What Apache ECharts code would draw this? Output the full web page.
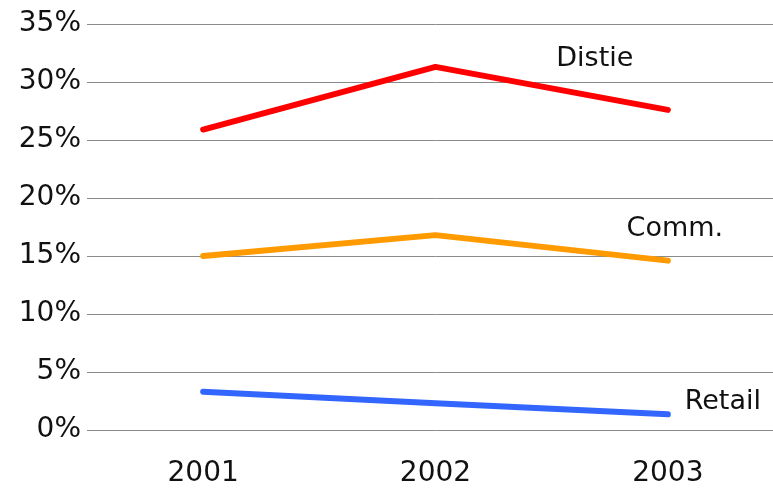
<!DOCTYPE html>
<html>
<head>
<meta charset="utf-8">
<script src="https://cdn.jsdelivr.net/npm/echarts@6/dist/echarts.min.js"></script>
<style>
  html, body { margin: 0; padding: 0; background: #fff; overflow: hidden; width: 773px; height: 489px; }
  /* the canvas runs a little past the page edge so the last band is cut off */
  #chart { width: 784px; height: 489px; }
</style>
</head>
<body>
<div id="chart"></div>
<script>
// Share by channel, 2001-2003 (percent)
const years = ['2001', '2002', '2003'];
const distie = [25.9, 31.3, 27.6];
const comm = [15.0, 16.8, 14.6];
const retail = [3.3, 2.3, 1.35];

const FONT = 'DejaVu Sans';

function lineSeries(name, data, color, labelOffset) {
  return {
    name: name,
    type: 'line',
    data: data,
    symbol: 'none',
    smooth: false,
    lineStyle: { color: color, width: 6, cap: 'round', join: 'round' },
    endLabel: {
      show: true,
      formatter: name,
      color: '#111',
      fontFamily: FONT,
      fontSize: 27,
      align: 'center',
      verticalAlign: 'middle',
      offset: labelOffset
    }
  };
}

const chart = echarts.init(document.getElementById('chart'));
chart.setOption({
  animation: false,
  backgroundColor: '#ffffff',
  grid: { left: 87, right: 0, top: 24, bottom: 59, containLabel: false },
  xAxis: {
    type: 'category',
    data: years,
    boundaryGap: true,
    axisLine: { show: false },
    axisTick: { show: false },
    axisLabel: { color: '#111', fontFamily: FONT, fontSize: 28, margin: 30 }
  },
  yAxis: {
    type: 'value',
    min: 0,
    max: 35,
    interval: 5,
    axisLine: { show: false },
    axisTick: { show: false },
    axisLabel: {
      color: '#111',
      fontFamily: FONT,
      fontSize: 28,
      margin: 6,
      formatter: '{value}%'
    },
    splitLine: { lineStyle: { color: '#8a8a8a', width: 1 } }
  },
  series: [
    lineSeries('Distie', distie, '#ff0000', [-81, -51]),
    lineSeries('Comm.', comm, '#ff9a00', [-1, -32]),
    lineSeries('Retail', retail, '#3366ff', [47, -12])
  ]
});
</script>
</body>
</html>
